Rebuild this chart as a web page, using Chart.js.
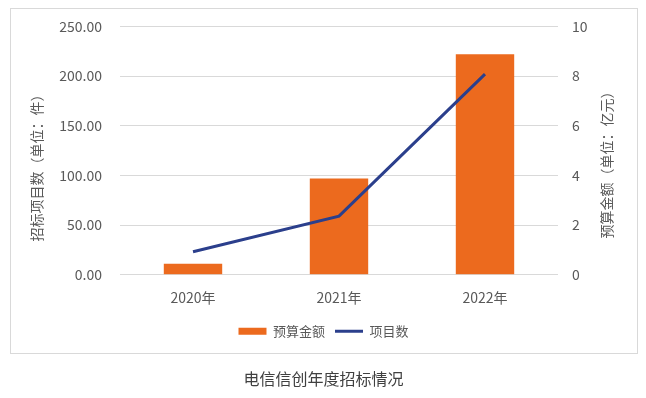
<!DOCTYPE html>
<html>
<head>
<meta charset="utf-8">
<script src="https://cdn.jsdelivr.net/npm/chart.js@4.4.0/dist/chart.umd.min.js"></script>
<style>
  html, body { margin: 0; padding: 0; background: #fff; }
  #wrap { width: 646px; height: 398px; }
</style>
</head>
<body>
<div id="wrap"><canvas id="chart" width="646" height="398"></canvas></div>
<script>
// Datos del gráfico
const categories = ['2020年', '2021年', '2022年'];
const budgetValues = [11, 97, 222];          // 预算金额 (barras, eje izquierdo)
const projectCounts = [0.93, 2.36, 8.08];    // 项目数 (línea, eje derecho)
const leftTicks = [0, 50, 100, 150, 200, 250];
const rightTicks = [0, 2, 4, 6, 8, 10];

const leftTitle = '招标项目数（单位：件）';
const rightTitle = '预算金额（单位：亿元）';
const caption = '电信信创年度招标情况';

const orange = '#EC6A1E';
const navy = '#2B3F8C';
const textGray = '#595959';

Chart.defaults.font.family = '"Noto Sans CJK SC", "Noto Sans", sans-serif';

// Marco gris y títulos de ejes
const framePlugin = {
    id: 'frame',
    beforeDraw(chart) {
        const ctx = chart.ctx;
        ctx.save();
        ctx.fillStyle = '#fff';
        ctx.fillRect(0, 0, chart.width, chart.height);
        ctx.strokeStyle = '#d9d9d9';
        ctx.lineWidth = 1;
        ctx.strokeRect(10.5, 8.5, 627, 345);
        ctx.restore();
    },
    afterDraw(chart) {
        const ctx = chart.ctx;
        const area = chart.chartArea;
        ctx.save();
        ctx.fillStyle = textGray;
        ctx.font = '14px "Noto Sans CJK SC", sans-serif';
        ctx.textAlign = 'center';
        ctx.textBaseline = 'middle';

        ctx.translate(area.left - 83, area.top + 138);
        ctx.rotate(-Math.PI / 2);
        ctx.fillText(leftTitle, 0, 0);
        ctx.restore();

        ctx.save();
        ctx.fillStyle = textGray;
        ctx.font = '14px "Noto Sans CJK SC", sans-serif';
        ctx.textAlign = 'center';
        ctx.textBaseline = 'middle';
        ctx.translate(area.right + 49, area.top + 135);
        ctx.rotate(-Math.PI / 2);
        ctx.fillText(rightTitle, 0, 0);
        ctx.restore();
    }
};

const ctx = document.getElementById('chart').getContext('2d');

new Chart(ctx, {
    type: 'bar',
    data: {
        labels: categories,
        datasets: [
            {
                type: 'bar',
                label: '预算金额',
                data: budgetValues,
                backgroundColor: orange,
                borderWidth: 0,
                yAxisID: 'y',
                order: 1,
                pointStyle: 'rect',
                categoryPercentage: 1,
                barPercentage: 0.4
            },
            {
                type: 'line',
                label: '项目数',
                data: projectCounts,
                borderColor: navy,
                backgroundColor: navy,
                borderWidth: 3,
                pointRadius: 0,
                tension: 0,
                yAxisID: 'y1',
                order: 0,
                pointStyle: 'line'
            }
        ]
    },
    options: {
        responsive: false,
        animation: false,
        layout: {
            padding: { top: 25, left: 10, right: 9, bottom: 0 }
        },
        plugins: {
            legend: {
                position: 'bottom',
                labels: {
                    usePointStyle: true,
                    pointStyleWidth: 28,
                    boxHeight: 7,
                    padding: 10,
                    color: textGray,
                    font: { size: 13 },
                    sort: (a, b) => a.datasetIndex - b.datasetIndex
                }
            },
            title: {
                display: true,
                position: 'bottom',
                text: caption,
                color: '#404040',
                font: { size: 16, weight: 'normal' },
                padding: { top: 22, bottom: 9 }
            },
            tooltip: { enabled: false }
        },
        scales: {
            x: {
                grid: { display: false, drawTicks: false },
                border: { display: false },
                ticks: { color: textGray, font: { size: 14 }, padding: 14 },
                afterFit(scale) { scale.height = 40; }
            },
            y: {
                position: 'left',
                min: 0,
                max: 250,
                afterBuildTicks(scale) { scale.ticks = leftTicks.map(v => ({ value: v })); },
                ticks: {
                    color: textGray,
                    font: { size: 14 },
                    padding: 18,
                    callback: v => Number(v).toFixed(2)
                },
                grid: { color: '#d9d9d9', drawTicks: false },
                border: { display: false },
                afterFit(scale) { scale.width = 110; }
            },
            y1: {
                position: 'right',
                min: 0,
                max: 10,
                afterBuildTicks(scale) { scale.ticks = rightTicks.map(v => ({ value: v })); },
                ticks: { color: textGray, font: { size: 14 }, padding: 14 },
                grid: { display: false, drawTicks: false },
                border: { display: false },
                afterFit(scale) { scale.width = 79; }
            }
        }
    },
    plugins: [framePlugin]
});
</script>
</body>
</html>
